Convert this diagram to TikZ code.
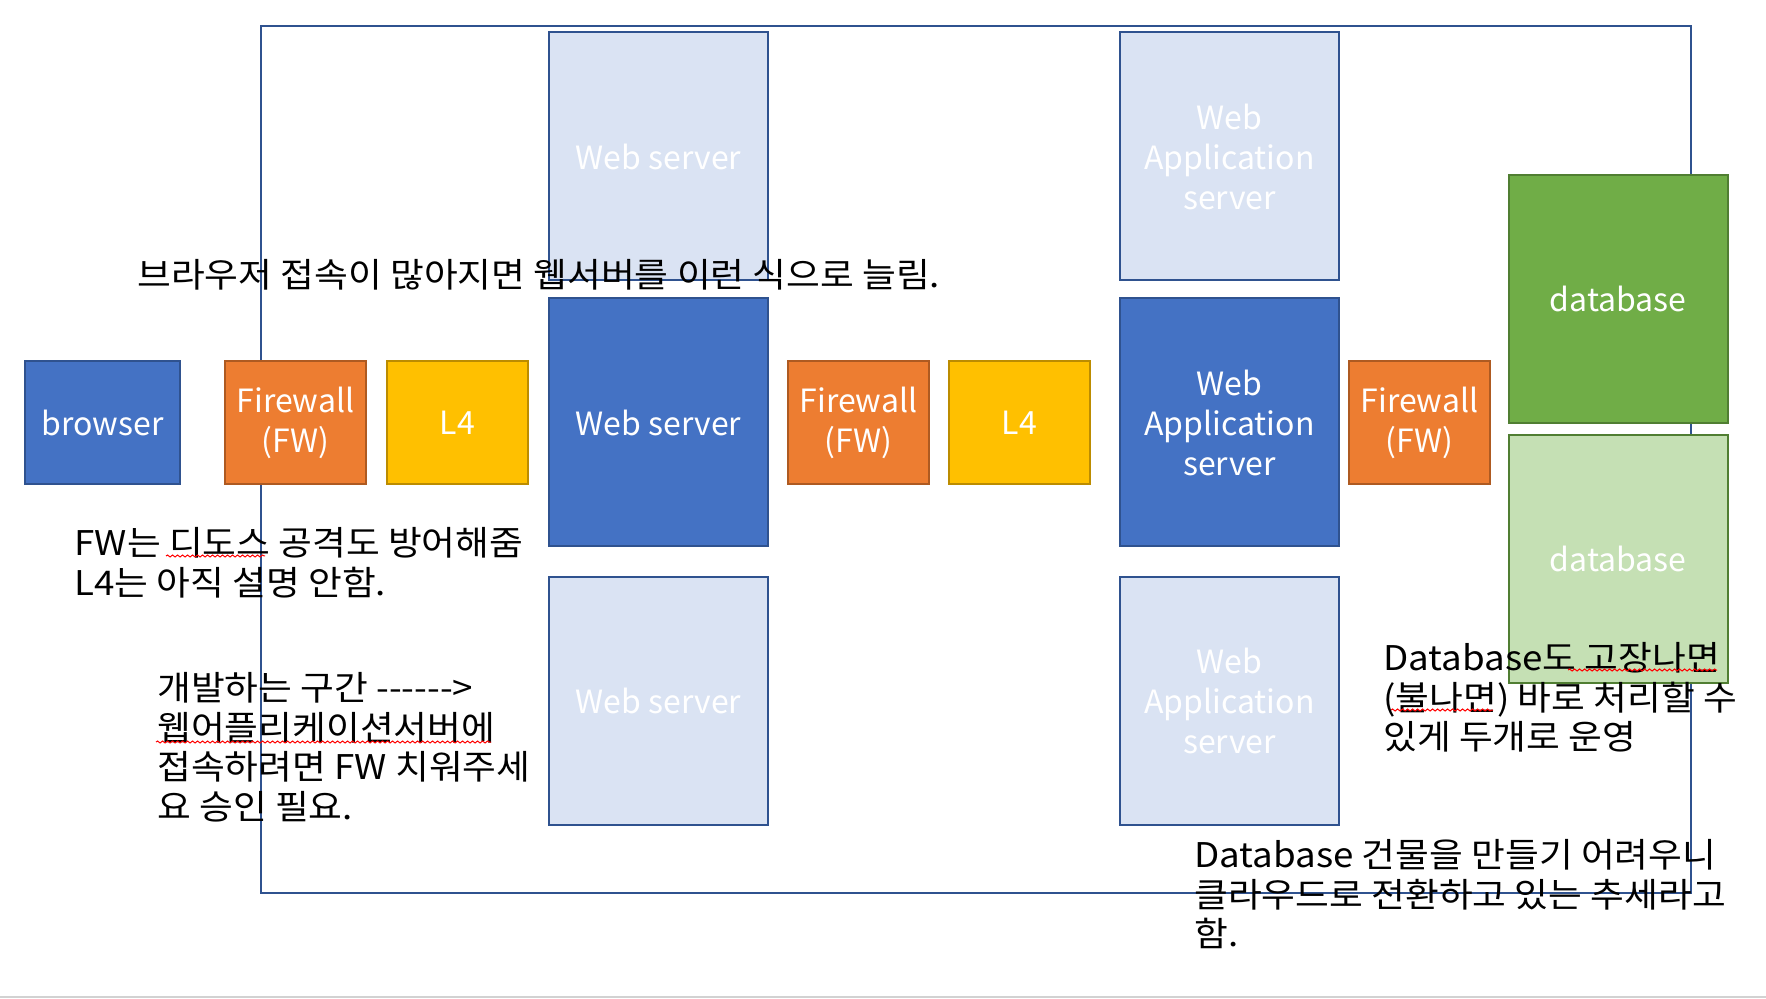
\documentclass[tikz,border=0pt]{standalone}
\usepackage{fontspec}
\setmainfont{Noto Sans CJK KR}
\newfontfamily\krfont[FakeStretch=1.08]{Noto Sans CJK KR}
\usepackage{tikz}
\usetikzlibrary{positioning,decorations.pathmorphing}

\definecolor{boxblue}{HTML}{4472C4}
\definecolor{edgeblue}{HTML}{2F528F}
\definecolor{paleblue}{HTML}{DAE3F3}
\definecolor{fworange}{HTML}{ED7D31}
\definecolor{edgeorange}{HTML}{AE5A21}
\definecolor{lgold}{HTML}{FFC000}
\definecolor{edgegold}{HTML}{BC8C00}
\definecolor{dbgreen}{HTML}{70AD47}
\definecolor{edgegreen}{HTML}{507E32}
\definecolor{palegreen}{HTML}{C5E0B4}

\begin{document}
\begin{tikzpicture}[
    x=0.5pt, y=-0.5pt,
    font=\fontsize{16}{20}\selectfont,
    unit/.style={draw, line width=1pt, text=white, align=center, inner sep=0pt},
    smallbox/.style={unit, minimum width=70.5pt, minimum height=61.5pt},
    tallbox/.style={unit, minimum width=109.5pt, minimum height=124pt},
    client/.style={smallbox, minimum width=77.5pt, fill=boxblue, draw=edgeblue},
    fw/.style={smallbox, fill=fworange, draw=edgeorange},
    lfour/.style={smallbox, fill=lgold, draw=edgegold},
    server/.style={tallbox, fill=boxblue, draw=edgeblue},
    spare/.style={tallbox, fill=paleblue, draw=edgeblue},
    db/.style={tallbox, fill=dbgreen, draw=edgegreen},
    dbspare/.style={tallbox, fill=palegreen, draw=edgegreen},
    note/.style={font=\krfont\fontsize{17}{19.8}\selectfont, align=left, inner sep=0pt, anchor=north west},
    squiggle/.style={draw=red, line width=0.5pt, decorate, decoration={snake, amplitude=0.5pt, segment length=2.5pt}}
]
\useasboundingbox (0,0) rectangle (1766,999);

% outer frame
\draw[edgeblue, line width=1pt] (261,26) rectangle (1691,893);

% main row
\node[client] (browser) at (102.5,422.5) {browser};
\node[fw, right=21.5pt of browser] (fw1) {Firewall\\(FW)};
\node[lfour, right=9.5pt of fw1] (lb1) {L4};
\node[server, right=9.5pt of lb1] (web) {Web server};
\node[fw, right=9pt of web] (fw2) {Firewall\\(FW)};
\node[lfour, right=9pt of fw2] (lb2) {L4};
\node[server, right=14pt of lb2] (was) {Web\\Application\\server};
\node[fw, right=4pt of was] (fw3) {Firewall\\(FW)};

% scaled-out copies
\node[spare, above=8pt of web] (webup) {Web server};
\node[spare, below=14pt of web] (webdown) {Web server};
\node[spare, above=8pt of was] (wasup) {Web\\Application\\server};
\node[spare, below=14pt of was] (wasdown) {Web\\Application\\server};

% databases
\node[db] (dbmain) at (1618,299.3) {database};
\node[dbspare, below=5pt of dbmain] (dbcopy) {database};

% notes
\node[note] (grow) at (137,259) {브라우저 접속이 많아지면 웹서버를 이런 식으로 늘림.};
\node[note] (fwnote) at (74,527) {FW는 디도스 공격도 방어해줌\\L4는 아직 설명 안함.};
\node[note] (devnote) at (157,672) {개발하는 구간 -{}-{}-{}-{}-{}->\\웹어플리케이션서버에\\접속하려면 FW 치워주세\\요 승인 필요.};
\node[note] (dbnote) at (1383,642) {Database도 고장나면\\(불나면) 바로 처리할 수\\있게 두개로 운영};
\node[note] (cloudnote) at (1194,839) {Database 건물을 만들기 어려우니\\클라우드로 전환하고 있는 추세라고\\함.};

% spell-check marks
\draw[squiggle] (166,556) -- (265,556);
\draw[squiggle] (156,742) -- (491,742);
\draw[squiggle] (1568,670) -- (1717,670);
\draw[squiggle] (1391,710) -- (1493,710);

\draw[gray!35, line width=1pt] (0,997) -- (1766,997);
\end{tikzpicture}
\end{document}
